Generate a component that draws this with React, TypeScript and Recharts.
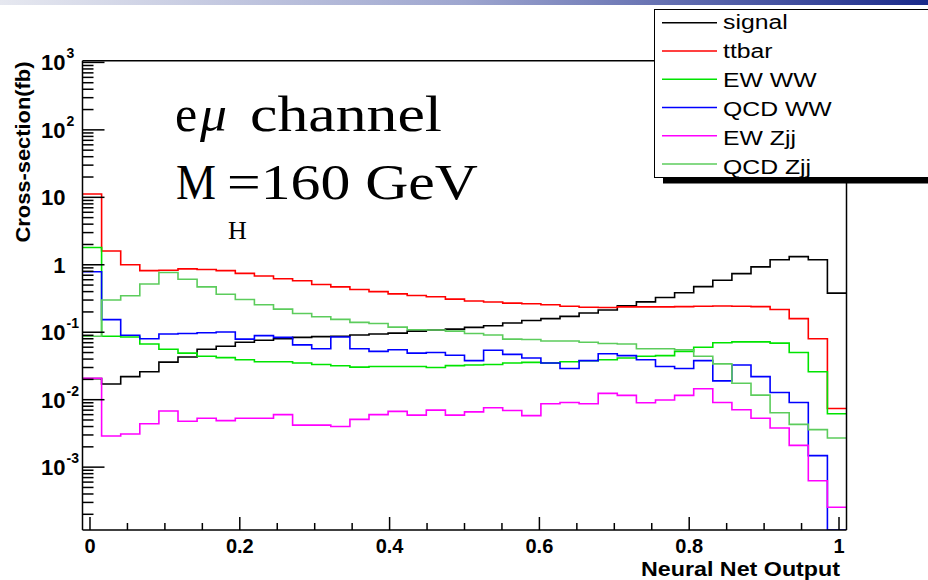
import { ComposedChart, Line, XAxis, YAxis } from "recharts";

// histogram binning: 40 bins over the NN output range
const BIN_LO = -0.01;
const BIN_HI = 1.01;
const N_BINS = 40;

// bin contents in fb (0 = empty bin)
const signal = [
  0.0205, 0.0171, 0.022, 0.026, 0.036, 0.043, 0.056, 0.062, 0.071, 0.076,
  0.08, 0.084, 0.086, 0.087, 0.091, 0.094, 0.097, 0.104, 0.108, 0.111,
  0.118, 0.125, 0.137, 0.149, 0.159, 0.172, 0.193, 0.214, 0.246, 0.282,
  0.328, 0.385, 0.474, 0.59, 0.74, 0.93, 1.19, 1.32, 1.19, 0.38,
];
const ttbar = [
  11.2, 1.6, 1.0, 0.82, 0.83, 0.87, 0.85, 0.82, 0.745, 0.68,
  0.62, 0.58, 0.51, 0.47, 0.43, 0.4, 0.37, 0.35, 0.336, 0.31,
  0.29, 0.28, 0.27, 0.264, 0.255, 0.243, 0.235, 0.233, 0.238, 0.238,
  0.238, 0.24, 0.243, 0.245, 0.243, 0.24, 0.217, 0.159, 0.08, 0.0074,
];
const ewWW = [
  1.8, 0.087, 0.085, 0.067, 0.056, 0.049, 0.044, 0.042, 0.039, 0.0366,
  0.0366, 0.035, 0.0333, 0.0318, 0.0304, 0.031, 0.031, 0.031, 0.03, 0.032,
  0.0326, 0.0333, 0.035, 0.0357, 0.035, 0.0366, 0.0378, 0.039, 0.0415, 0.044,
  0.045, 0.052, 0.06, 0.07, 0.072, 0.072, 0.069, 0.05, 0.026, 0.0062,
];
const qcdWW = [
  0.79, 0.154, 0.09, 0.08, 0.094, 0.096, 0.098, 0.101, 0.079, 0.089,
  0.084, 0.065, 0.057, 0.085, 0.057, 0.052, 0.055, 0.049, 0.05, 0.0455,
  0.038, 0.054, 0.047, 0.0415, 0.035, 0.029, 0.038, 0.048, 0.045, 0.039,
  0.031, 0.029, 0.038, 0.019, 0.0326, 0.022, 0.0128, 0.0091, 0.00148, 0,
];
const ewZjj = [
  0.0208, 0.0029, 0.0031, 0.0044, 0.0068, 0.0048, 0.0053, 0.0049, 0.0053, 0.0053,
  0.006, 0.0042, 0.0042, 0.004, 0.0051, 0.006, 0.0067, 0.0059, 0.007, 0.0059,
  0.0066, 0.0076, 0.0069, 0.0058, 0.0087, 0.0091, 0.0087, 0.0124, 0.0116, 0.009,
  0.0099, 0.0116, 0.0145, 0.0091, 0.0071, 0.0053, 0.0038, 0.0021, 0.00063, 0.000255,
];
const qcdZjj = [
  0.087, 0.3, 0.347, 0.52, 0.77, 0.61, 0.47, 0.365, 0.305, 0.255,
  0.22, 0.19, 0.17, 0.155, 0.14, 0.135, 0.119, 0.109, 0.108, 0.104,
  0.096, 0.091, 0.079, 0.078, 0.074, 0.074, 0.071, 0.068, 0.067, 0.057,
  0.057, 0.055, 0.044, 0.034, 0.0175, 0.0117, 0.0064, 0.0043, 0.0036, 0.0027,
];

const SERIES = [
  { key: "signal", name: "signal", color: "#000000", values: signal },
  { key: "ttbar", name: "ttbar", color: "#ff0000", values: ttbar },
  { key: "ewWW", name: "EW WW", color: "#00e400", values: ewWW },
  { key: "qcdWW", name: "QCD WW", color: "#0000ff", values: qcdWW },
  { key: "ewZjj", name: "EW Zjj", color: "#ff00ff", values: ewZjj },
  { key: "qcdZjj", name: "QCD Zjj", color: "#5ccc5c", values: qcdZjj },
];

const Y_MIN = 1.17e-4;
const Y_MAX = 1.06e3;

const X_TICKS = [
  0, 0.05, 0.1, 0.15, 0.2, 0.25, 0.3, 0.35, 0.4, 0.45, 0.5,
  0.55, 0.6, 0.65, 0.7, 0.75, 0.8, 0.85, 0.9, 0.95, 1,
];
const DECADES = [1e-4, 1e-3, 1e-2, 1e-1, 1, 10, 100, 1000];
const MULTS = [1, 2, 3, 4, 5, 6, 7, 8, 9];
const Y_TICKS = DECADES.flatMap((d) => MULTS.map((m) => +(d * m).toPrecision(3))).filter(
  (v) => v >= Y_MIN && v <= Y_MAX
);

// step rows: one per bin low edge, plus the closing high edge
const binWidth = (BIN_HI - BIN_LO) / N_BINS;
const rows = Array.from({ length: N_BINS + 1 }, (_, i) => {
  const row: Record<string, number> = { x: i === N_BINS ? BIN_HI : BIN_LO + i * binWidth };
  for (const s of SERIES) {
    const v = s.values[Math.min(i, N_BINS - 1)];
    row[s.key] = v > 0 ? v : Y_MIN; // empty bins sit on the floor
  }
  return row;
});

const SANS = "'Liberation Sans', Arial, Helvetica, sans-serif";
const SERIF = "'Liberation Serif', 'Times New Roman', serif";
const W = 928;
const H = 580;

function XTick(props: any) {
  const { x, y, payload } = props;
  const v = payload.value as number;
  const major = Math.abs(v * 5 - Math.round(v * 5)) < 1e-6;
  return (
    <g>
      <line x1={x} x2={x} y1={y} y2={y - (major ? 13 : 7)} stroke="#000" strokeWidth={1.5} />
      {major && (
        <text x={x} y={y + 23} textAnchor="middle" fontFamily={SANS} fontWeight="bold" fontSize={20} fill="#000">
          {String(v)}
        </text>
      )}
    </g>
  );
}

function YTick(props: any) {
  const { x, y, payload } = props;
  const v = payload.value as number;
  const lg = Math.log10(v);
  const major = Math.abs(lg - Math.round(lg)) < 1e-6;
  const e = Math.round(lg);
  return (
    <g>
      <line x1={x} x2={x + (major ? 22 : 11)} y1={y} y2={y} stroke="#000" strokeWidth={1.5} />
      {major && (
        <g fontFamily={SANS} fontWeight="bold" fill="#000">
          <text x={x - 17} y={y + 8} textAnchor="end" fontSize={22}>
            {e === 0 ? "1" : "10"}
          </text>
          {e !== 0 && e !== 1 && (
            <text x={x - 16} y={y - 4} fontSize={14}>
              {String(e)}
            </text>
          )}
        </g>
      )}
    </g>
  );
}

export default function App() {
  return (
    <div style={{ position: "absolute", left: 0, top: 0, width: W, height: H, background: "#fff" }}>
      <ComposedChart
        width={W}
        height={H}
        data={rows}
        margin={{ top: 59.7, right: 80.5, bottom: 49, left: 81.5 }}
      >
        <XAxis
          dataKey="x"
          type="number"
          domain={[BIN_LO, BIN_HI]}
          allowDataOverflow
          ticks={X_TICKS}
          interval={0}
          height={1}
          tickSize={0}
          tickMargin={0}
          tickLine={false}
          axisLine={{ stroke: "#000", strokeWidth: 1.5 }}
          tick={(p: any) => <XTick {...p} />}
        />
        <XAxis
          xAxisId="top"
          orientation="top"
          type="number"
          domain={[BIN_LO, BIN_HI]}
          height={1}
          tick={false}
          tickLine={false}
          axisLine={{ stroke: "#000", strokeWidth: 1.5 }}
        />
        <YAxis
          type="number"
          scale="log"
          domain={[Y_MIN, Y_MAX]}
          allowDataOverflow
          ticks={Y_TICKS}
          interval={0}
          width={1}
          tickSize={0}
          tickMargin={0}
          tickLine={false}
          axisLine={{ stroke: "#000", strokeWidth: 1.5 }}
          tick={(p: any) => <YTick {...p} />}
        />
        <YAxis
          yAxisId="right"
          orientation="right"
          type="number"
          scale="log"
          domain={[Y_MIN, Y_MAX]}
          width={1}
          tick={false}
          tickLine={false}
          axisLine={{ stroke: "#000", strokeWidth: 1.5 }}
        />
        {SERIES.map((s) => (
          <Line
            key={s.key}
            dataKey={s.key}
            name={s.name}
            type="stepAfter"
            stroke={s.color}
            strokeWidth={1.6}
            dot={false}
            activeDot={false}
            isAnimationActive={false}
          />
        ))}
      </ComposedChart>

      <svg
        width={W}
        height={H}
        style={{ position: "absolute", left: 0, top: 0, pointerEvents: "none" }}
      >
        <defs>
          <linearGradient id="topbar" x1="0" x2="1" y1="0" y2="0">
            <stop offset="0" stopColor="#e6e8f0" />
            <stop offset="0.5" stopColor="#9ea6cf" />
            <stop offset="1" stopColor="#1a2a8a" />
          </linearGradient>
        </defs>
        <rect x={0} y={0} width={W} height={5} fill="url(#topbar)" />

        {/* annotation */}
        <g fontFamily={SERIF} fill="#000">
          <text x={175} y={131} fontSize={50}>e</text>
          <text x={200} y={131} fontSize={50} fontStyle="italic" textLength={27} lengthAdjust="spacingAndGlyphs">μ</text>
          <text x={250} y={131} fontSize={50} textLength={192} lengthAdjust="spacingAndGlyphs">channel</text>
          <text x={176} y={198.5} fontSize={50} textLength={40} lengthAdjust="spacingAndGlyphs">M</text>
          <text x={227} y={198.5} fontSize={50} textLength={251} lengthAdjust="spacingAndGlyphs">=160 GeV</text>
          <text x={228} y={239} fontSize={26}>H</text>
        </g>

        {/* axis titles */}
        <text
          transform="translate(29.5,152) rotate(-90)"
          textAnchor="middle"
          fontFamily={SANS}
          fontWeight="bold"
          fontSize={20}
          textLength={181}
          lengthAdjust="spacingAndGlyphs"
        >
          Cross-section(fb)
        </text>
        <text
          x={840}
          y={576}
          textAnchor="end"
          fontFamily={SANS}
          fontWeight="bold"
          fontSize={20}
          textLength={199}
          lengthAdjust="spacingAndGlyphs"
        >
          Neural Net Output
        </text>

        {/* legend box with drop shadow */}
        <rect x={663} y={177.5} width={300} height={6} fill="#000" />
        <rect x={654.5} y={9.5} width={300} height={168} fill="#fff" stroke="#000" strokeWidth={1} />
        {SERIES.map((s, i) => (
          <g key={s.key}>
            <line x1={662} x2={717} y1={22.7 + 28.26 * i} y2={22.7 + 28.26 * i} stroke={s.color} strokeWidth={1.5} />
            <text
              transform={`translate(723,${29.3 + 28.9 * i}) scale(1.18,1)`}
              fontFamily={SANS}
              fontSize={21}
              fill="#000"
            >
              {s.name}
            </text>
          </g>
        ))}
      </svg>
    </div>
  );
}
